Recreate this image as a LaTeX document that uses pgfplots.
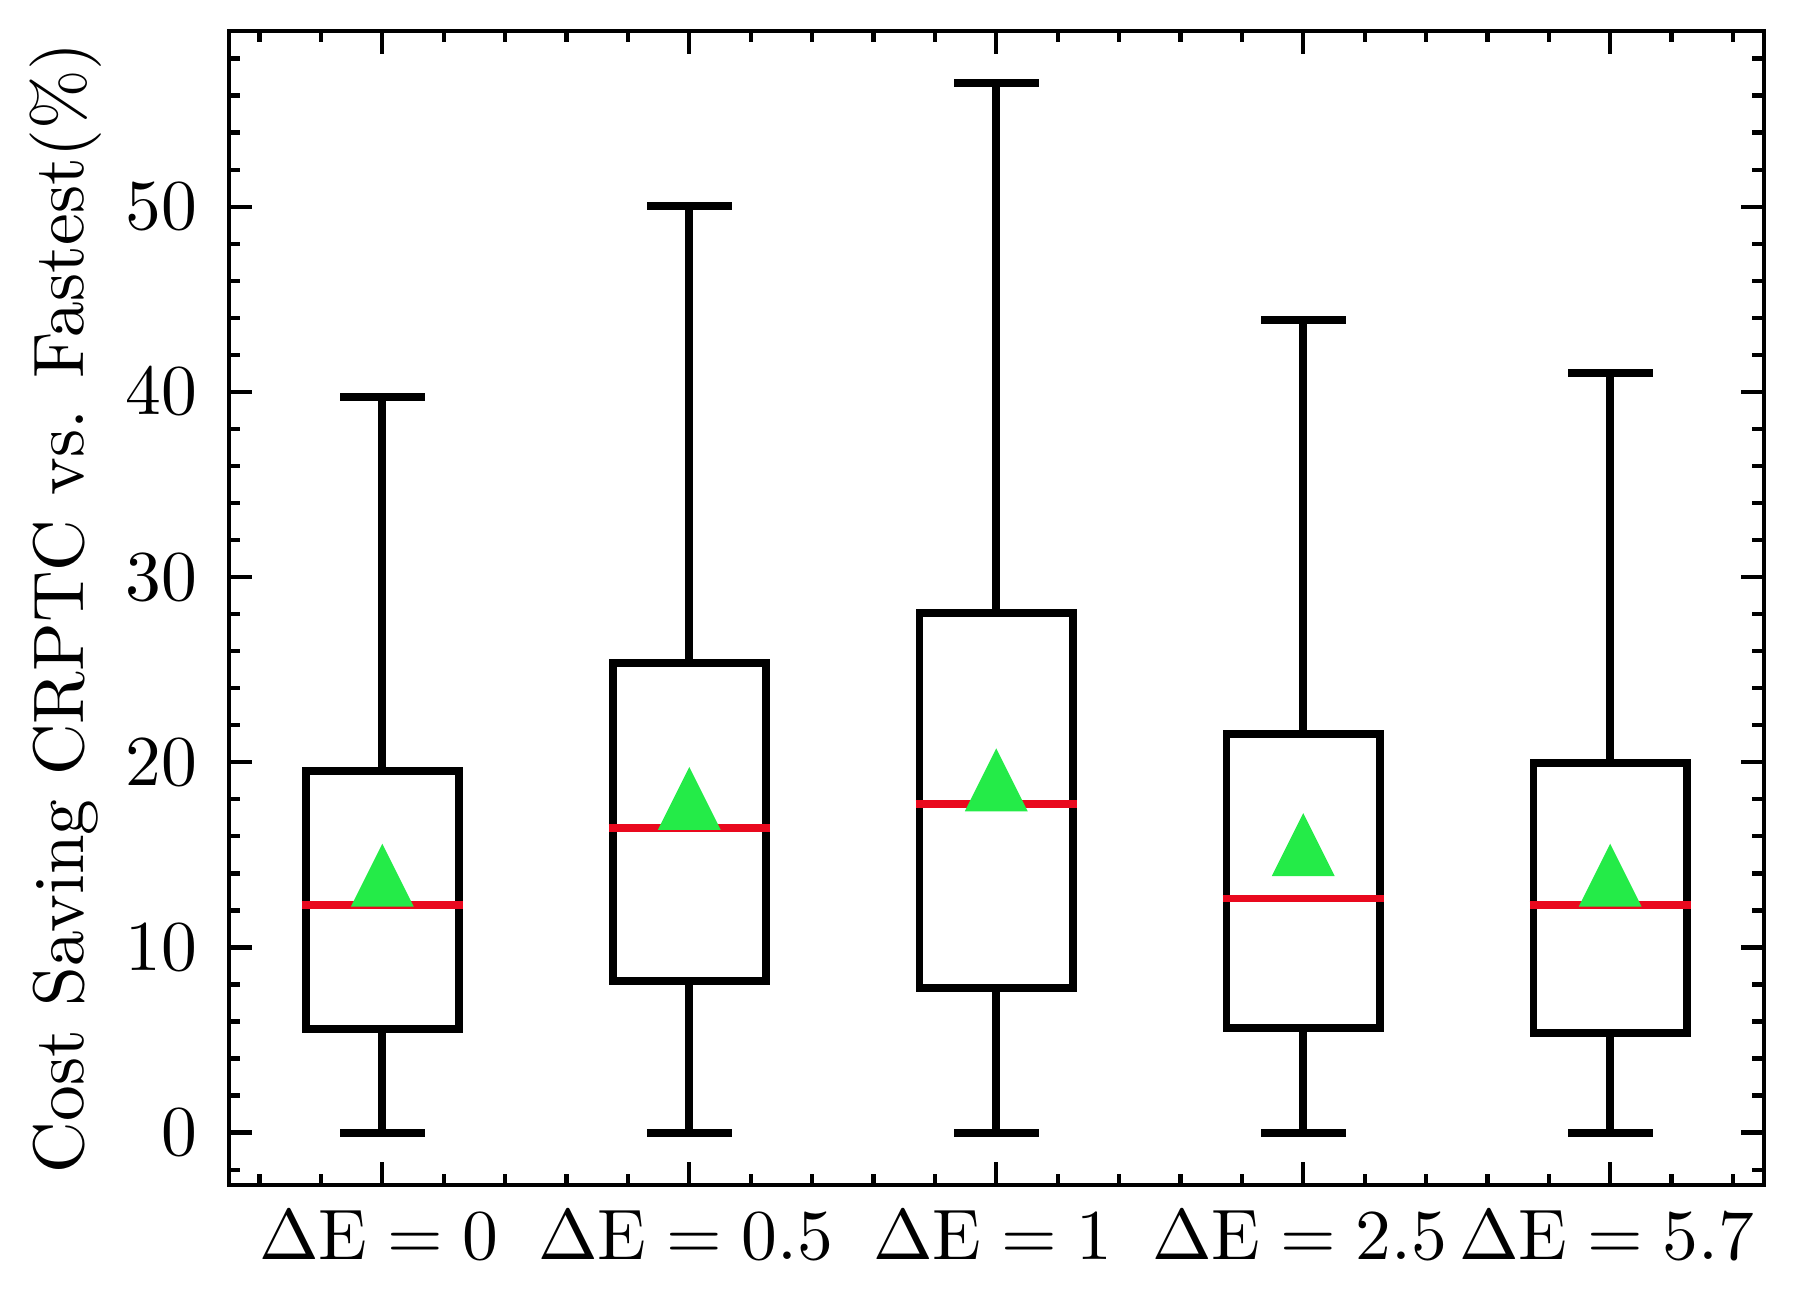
\documentclass[border=0pt]{standalone}
\usepackage{pgfplots}
\pgfplotsset{compat=1.18}
\usepgfplotslibrary{statistics}
\definecolor{mred}{RGB}{233,9,30}
\definecolor{mgreen}{RGB}{36,235,72}
\pgfdeclareplotmark{mtri}{%
  \pgfpathmoveto{\pgfqpoint{0pt}{\pgfplotmarksize}}%
  \pgfpathlineto{\pgfqpoint{-\pgfplotmarksize}{-\pgfplotmarksize}}%
  \pgfpathlineto{\pgfqpoint{\pgfplotmarksize}{-\pgfplotmarksize}}%
  \pgfpathclose\pgfusepathqfill}
\begin{document}
\begin{tikzpicture}
\begin{axis}[
  scale only axis,
  width=214.6pt, height=161.4pt,
  xmin=0.5, xmax=5.5,
  ymin=-2.833, ymax=59.5,
  xtick={1,2,3,4,5},
  xticklabels={$\Delta\mathrm{E}=0$,$\Delta\mathrm{E}=0.5$,$\Delta\mathrm{E}=1$,$\Delta\mathrm{E}=2.5$,$\Delta\mathrm{E}=5.7$},
  minor xtick={0.6,0.8,...,5.41},
  ytick={0,10,20,30,40,50},
  minor ytick={-2,0,...,58},
  tick align=inside,
  tick pos=both,
  major tick length=3.2pt,
  minor tick length=1.6pt,
  every major tick/.style={line width=0.6pt, black},
  every minor tick/.style={line width=0.6pt, black},
  axis line style={line width=0.6pt},
  yticklabel style={xshift=-0.9pt},
  xticklabel style={xshift=-0.5pt},
  ylabel={Cost Saving CRPTC vs. Fastest(\%)},
  ylabel style={at={(axis description cs:-0.1305,0.5)}, anchor=north, inner sep=0pt},
  boxplot/draw direction=y,
  boxplot/every box/.style={draw=black, line width=1.1pt},
  boxplot/every whisker/.style={draw=black, line width=1.1pt, line cap=rect},
  boxplot/every median/.style={draw=mred, line width=1.1pt, shorten <=-0.55pt, shorten >=-0.55pt},
  boxplot/box extend=0.5,
  boxplot/whisker extend=0.25,
]
\addplot[draw=black, line width=1.1pt, boxplot prepared={draw position=1, lower whisker=0, lower quartile=5.61, median=12.27, upper quartile=19.54, upper whisker=39.7}] coordinates {};
\addplot[draw=black, line width=1.1pt, boxplot prepared={draw position=2, lower whisker=0, lower quartile=8.2, median=16.46, upper quartile=25.34, upper whisker=50.06}] coordinates {};
\addplot[draw=black, line width=1.1pt, boxplot prepared={draw position=3, lower whisker=0, lower quartile=7.83, median=17.76, upper quartile=28.05, upper whisker=56.66}] coordinates {};
\addplot[draw=black, line width=1.1pt, boxplot prepared={draw position=4, lower whisker=0, lower quartile=5.67, median=12.64, upper quartile=21.52, upper whisker=43.9}] coordinates {};
\addplot[draw=black, line width=1.1pt, boxplot prepared={draw position=5, lower whisker=0, lower quartile=5.36, median=12.27, upper quartile=19.98, upper whisker=41.0}] coordinates {};
\addplot[only marks, mark=mtri, mark size=4.4pt, color=mgreen] coordinates {(1,13.9) (2,18.05) (3,19.05) (4,15.55) (5,13.9)};
\end{axis}
\pgfresetboundingbox
\useasboundingbox ([xshift=-32pt,yshift=-16.3pt]current axis.south west) rectangle ([xshift=4.1pt,yshift=4.3pt]current axis.north east);
\end{tikzpicture}
\end{document}
